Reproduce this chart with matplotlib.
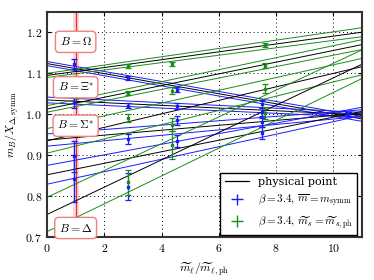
import matplotlib
matplotlib.use("Agg")
import matplotlib.pyplot as plt
import numpy as np

plt.rcParams['font.family'] = 'serif'
plt.rcParams['font.serif'] = ['DejaVu Serif']
plt.rcParams['mathtext.fontset'] = 'cm'

# baryons (top to bottom)
baryons = ['Omega', 'Xi*', 'Sigma*', 'Delta']
labels = [r'$B = \Omega$', r'$B = \Xi^{*}$', r'$B = \Sigma^{*}$', r'$B = \Delta$']
label_y = [1.177, 1.066, 0.972, 0.722]

# fit lines: intercept, slope, half width at x=0 and x=11
symm_a = [1.124, 1.035, 0.937, 0.852]
symm_b = [-0.0123, -0.0033, 0.006, 0.0141]
symm_e0 = [0.005, 0.007, 0.015, 0.023]
symm_e1 = [0.006, 0.006, 0.008, 0.010]

ms_a = [1.095, 1.013, 0.935, 0.755]
ms_b = [0.0096, 0.0143, 0.0165, 0.0334]
ms_e0 = [0.005, 0.008, 0.030, 0.042]
ms_e1 = [0.011, 0.012, 0.020, 0.035]

# lattice points, m_bar = m_symm
symm_x = [0.95, 2.82, 4.53, 7.5, 10.5]
symm_y = [[1.123, 1.089, 1.060, 1.025, 1.000],
          [1.030, 1.021, 1.020, 1.005, 1.000],
          [0.897, 0.940, 0.985, 0.980, 1.000],
          [0.843, 0.823, 0.935, 0.955, 1.000]]
symm_err = [[0.012, 0.005, 0.006, 0.010, 0.005],
            [0.015, 0.006, 0.008, 0.010, 0.005],
            [0.037, 0.012, 0.010, 0.012, 0.005],
            [0.057, 0.033, 0.015, 0.015, 0.005]]

# lattice points, m_s = m_s,ph
ms_x = [2.82, 4.36, 7.6]
ms_y = [[1.118, 1.122, 1.169],
        [1.052, 1.058, 1.119],
        [0.991, 0.975, 1.063],
        [0.834, 0.925, 1.004]]
ms_err = [[0.005, 0.005, 0.005],
          [0.006, 0.008, 0.006],
          [0.010, 0.015, 0.010],
          [0.031, 0.035, 0.015]]

blue = '#1a1aff'
green = '#1a8c1a'

fig = plt.figure(figsize=(3.74, 2.8), dpi=100)
ax = fig.add_axes([47/374, 43/280, 315/374, 225/280])

xx = np.linspace(0, 11, 50)


def band(a, b, e0, e1, color):
    c = a + b*xx
    e = e0 + (e1 - e0)*xx/11.0
    ax.plot(xx, c + e, color=color, lw=0.7, zorder=2)
    ax.plot(xx, c - e, color=color, lw=0.7, zorder=2)
    ax.plot(xx, c, color='black', lw=0.7, zorder=2)


for i in range(len(baryons)):
    band(symm_a[i], symm_b[i], symm_e0[i], symm_e1[i], blue)
    band(ms_a[i], ms_b[i], ms_e0[i], ms_e1[i], green)

# physical point
ax.axvspan(0.9, 1.1, color='#ff9999', alpha=0.4, lw=0, zorder=1)
ax.axvline(1.0, color='#e03030', lw=0.9, zorder=1.5)

for i in range(len(baryons)):
    ax.errorbar(symm_x, symm_y[i], yerr=symm_err[i], fmt='s', color=blue,
                ms=2, lw=0.9, capsize=2.5, capthick=0.9, zorder=4)
    ax.errorbar(ms_x, ms_y[i], yerr=ms_err[i], fmt='s', color=green,
                ms=2, lw=0.9, capsize=2.5, capthick=0.9, zorder=4)

for lab, y in zip(labels, label_y):
    ax.text(1.0, y, lab, ha='center', va='center', fontsize=8.5, zorder=6,
            bbox=dict(boxstyle='round,pad=0.35', fc='white', ec='#f08080', lw=1))

# legend handles
h0, = ax.plot([], [], color='black', lw=0.9)
h1 = ax.errorbar([], [], yerr=[], xerr=[], fmt='none', color=blue, lw=1, capsize=2.5)
h2 = ax.errorbar([], [], yerr=[], xerr=[], fmt='none', color=green, lw=1, capsize=2.5)
leg = ax.legend([h0, h1, h2],
                ['physical point',
                 r'$\beta = 3.4,\,\overline{m} = m_{\rm symm}$',
                 r'$\beta = 3.4,\,\widetilde{m}_s = \widetilde{m}_{s,{\rm ph}}$'],
                loc='lower right', bbox_to_anchor=(0.985, 0.008), borderaxespad=0,
                fontsize=8, fancybox=False, framealpha=1, handlelength=2.2)
leg.get_frame().set_edgecolor('black')
leg.get_frame().set_linewidth(1.0)
leg.set_zorder(7)

ax.set_xlim(0, 11)
ax.set_ylim(0.7, 1.25)
ax.set_xticks([0, 2, 4, 6, 8, 10])
ax.set_yticks([0.7, 0.8, 0.9, 1.0, 1.1, 1.2])
ax.set_xticklabels(['$%d$' % v for v in [0, 2, 4, 6, 8, 10]], fontsize=8.5)
ax.set_yticklabels(['$%.1f$' % v for v in [0.7, 0.8, 0.9, 1.0, 1.1, 1.2]], fontsize=8.5)
ax.grid(True, color='black', ls=(0, (1, 3)), lw=0.7)
ax.set_axisbelow(True)
ax.tick_params(direction='in', top=True, right=True, length=3, width=0.8)
for s in ax.spines.values():
    s.set_linewidth(1.5)
    s.set_color('#333333')

ax.set_xlabel(r'$\widetilde{m}_\ell/\widetilde{m}_{\ell,{\rm ph}}$', fontsize=8.5)
ax.set_ylabel(r'$m_B/X_{\Delta,{\rm symm}}$', fontsize=8.5)

fig.savefig('out.png', dpi=100)
